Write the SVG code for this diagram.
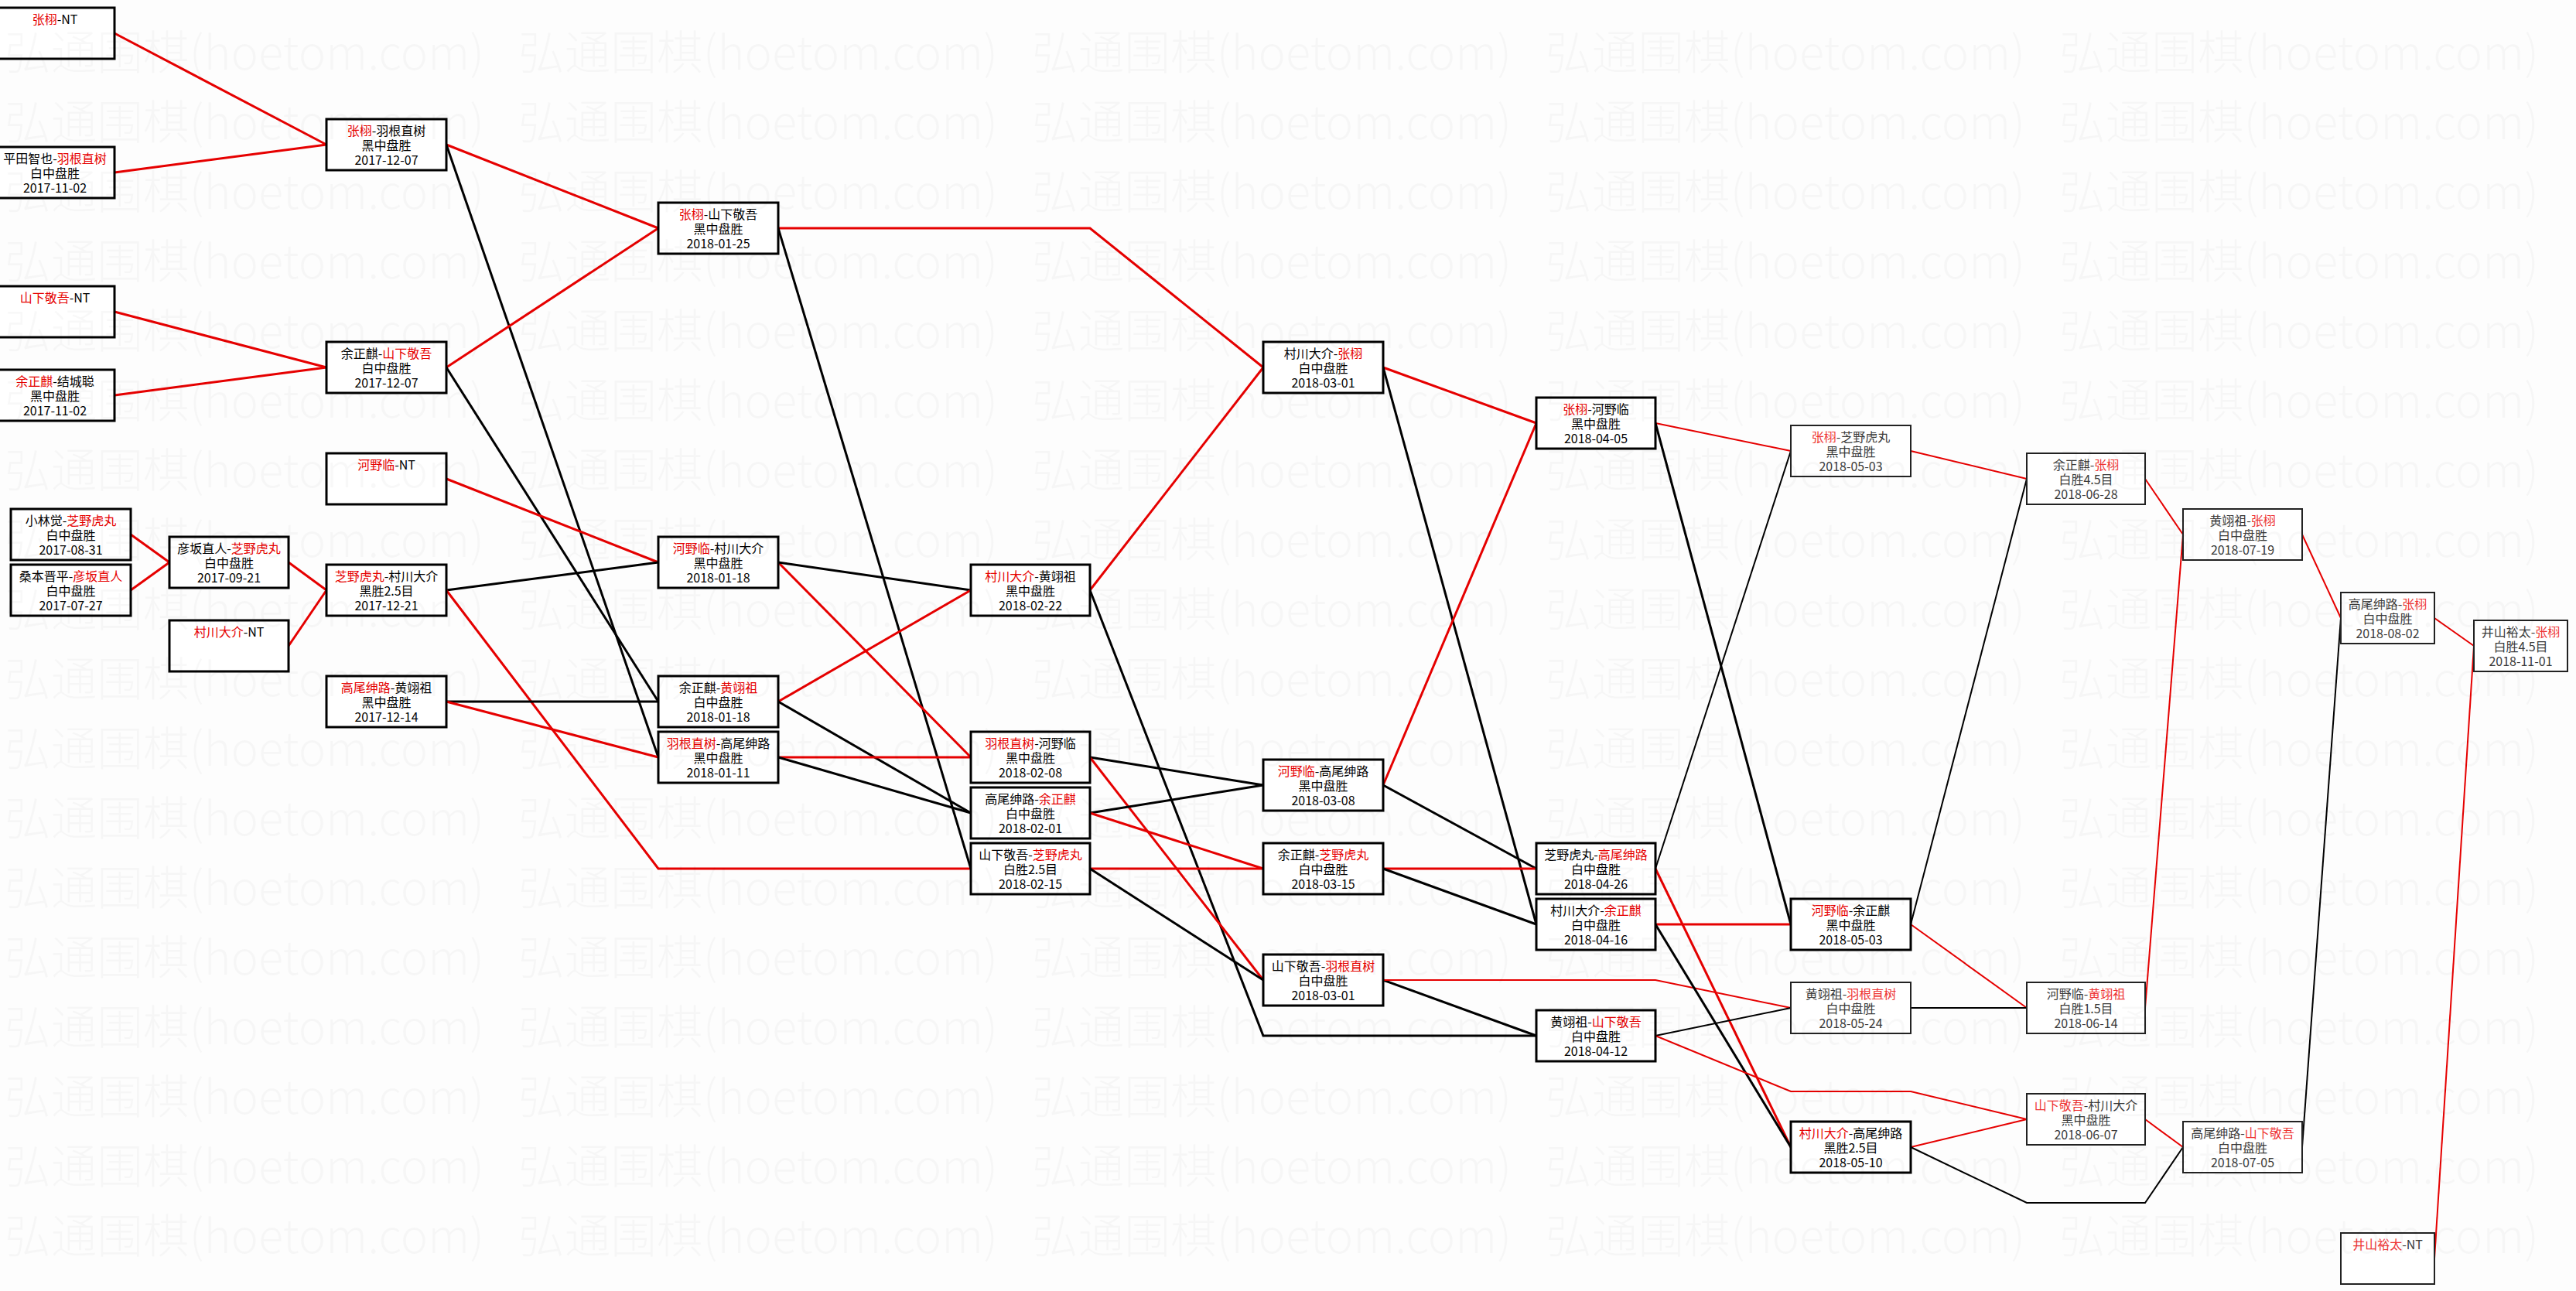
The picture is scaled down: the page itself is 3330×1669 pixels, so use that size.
<svg xmlns="http://www.w3.org/2000/svg" xmlns:xlink="http://www.w3.org/1999/xlink" width="3330" height="1669" viewBox="0 0 3330 1669">
<style>
.bg{fill:#fdfdfd}
.node rect{fill:#fff;stroke:#000;stroke-width:3}
.node.thin rect{stroke:#222;stroke-width:2}
.node text{font-family:"Noto Sans CJK SC","Noto Sans",sans-serif;font-size:16px;text-anchor:middle;fill:#000}
.node.thin text{fill:#3a3a3a}
.node .r{fill:#e60000}
.node.thin .r{fill:#ee3333}
.edges polyline{fill:none;stroke-linejoin:miter}
.er{stroke:#e60000;stroke-width:3}
.eb{stroke:#000;stroke-width:3}
.er.t{stroke-width:2}
.eb.t{stroke-width:2}
.wm{font-family:"Noto Sans CJK SC",sans-serif;font-size:60px;font-weight:300;fill:#000;fill-opacity:0.028}
</style>
<defs>
<text id="wm" class="wm" x="0" y="0" textLength="620" lengthAdjust="spacingAndGlyphs">弘通围棋(hoetom.com)</text>
</defs>
<rect class="bg" x="0" y="0" width="3330" height="1669"/>

<g id="connectors" class="edges">
<polyline class="er" points="148,43 422,187"/>
<polyline class="er" points="148,223 422,187"/>
<polyline class="er" points="148,403 422,475"/>
<polyline class="er" points="148,511 422,475"/>
<polyline class="er" points="169,691 219,727"/>
<polyline class="er" points="169,763 219,727"/>
<polyline class="er" points="373,727 422,763"/>
<polyline class="er" points="373,835 422,763"/>
<polyline class="er" points="577,187 851,295"/>
<polyline class="eb" points="577,187 851,979"/>
<polyline class="er" points="577,475 851,295"/>
<polyline class="eb" points="577,475 851,907"/>
<polyline class="er" points="577,619 851,727"/>
<polyline class="eb" points="577,763 851,727"/>
<polyline class="er" points="577,763 851,1123 1006,1123 1255,1123"/>
<polyline class="eb" points="577,907 851,907"/>
<polyline class="er" points="577,907 851,979"/>
<polyline class="er" points="1006,295 1255,295 1409,295 1633,475"/>
<polyline class="eb" points="1006,295 1255,1123"/>
<polyline class="er" points="1006,727 1255,979"/>
<polyline class="eb" points="1006,727 1255,763"/>
<polyline class="er" points="1006,907 1255,763"/>
<polyline class="eb" points="1006,907 1255,1051"/>
<polyline class="er" points="1006,979 1255,979"/>
<polyline class="eb" points="1006,979 1255,1051"/>
<polyline class="er" points="1409,763 1633,475"/>
<polyline class="eb" points="1409,763 1633,1339 1788,1339 1986,1339"/>
<polyline class="eb" points="1409,979 1633,1015"/>
<polyline class="er" points="1409,979 1633,1267"/>
<polyline class="eb" points="1409,1051 1633,1015"/>
<polyline class="er" points="1409,1051 1633,1123"/>
<polyline class="er" points="1409,1123 1633,1123"/>
<polyline class="eb" points="1409,1123 1633,1267"/>
<polyline class="er" points="1788,475 1986,547"/>
<polyline class="eb" points="1788,475 1986,1195"/>
<polyline class="er" points="1788,1015 1986,547"/>
<polyline class="eb" points="1788,1015 1986,1123"/>
<polyline class="er" points="1788,1123 1986,1123"/>
<polyline class="eb" points="1788,1123 1986,1195"/>
<polyline class="eb" points="1788,1267 1986,1339"/>
<polyline class="er t" points="1788,1267 1986,1267 2140,1267 2315,1303"/>
<polyline class="er t" points="2140,547 2315,583"/>
<polyline class="eb" points="2140,547 2315,1195"/>
<polyline class="eb t" points="2140,1123 2315,583"/>
<polyline class="er" points="2140,1123 2315,1483"/>
<polyline class="er" points="2140,1195 2315,1195"/>
<polyline class="eb" points="2140,1195 2315,1483"/>
<polyline class="eb t" points="2140,1339 2315,1303"/>
<polyline class="er t" points="2140,1339 2315,1411 2470,1411 2620,1447"/>
<polyline class="er t" points="2470,583 2620,619"/>
<polyline class="eb t" points="2470,1195 2620,619"/>
<polyline class="er t" points="2470,1195 2620,1303"/>
<polyline class="eb t" points="2470,1303 2620,1303"/>
<polyline class="er t" points="2470,1483 2620,1447"/>
<polyline class="eb t" points="2470,1483 2620,1555 2773,1555 2822,1483"/>
<polyline class="er t" points="2773,619 2822,691"/>
<polyline class="er t" points="2773,1303 2822,691"/>
<polyline class="er t" points="2773,1447 2822,1483"/>
<polyline class="er t" points="2976,691 3026,799"/>
<polyline class="eb t" points="2976,1483 3026,799"/>
<polyline class="er t" points="3147,799 3198,835"/>
<polyline class="er t" points="3147,1627 3198,835"/>
</g>

<g id="n1" class="node"><rect x="-6" y="10" width="154" height="66"/><text x="71" y="31"><tspan class="r">张栩</tspan>-NT</text></g>
<g id="n2" class="node"><rect x="-6" y="190" width="154" height="66"/><text x="71" y="211">平田智也-<tspan class="r">羽根直树</tspan></text><text x="71" y="230">白中盘胜</text><text x="71" y="249">2017-11-02</text></g>
<g id="n3" class="node"><rect x="-6" y="370" width="154" height="66"/><text x="71" y="391"><tspan class="r">山下敬吾</tspan>-NT</text></g>
<g id="n4" class="node"><rect x="-6" y="478" width="154" height="66"/><text x="71" y="499"><tspan class="r">余正麒</tspan>-结城聪</text><text x="71" y="518">黑中盘胜</text><text x="71" y="537">2017-11-02</text></g>
<g id="n5" class="node"><rect x="14" y="658" width="155" height="66"/><text x="91.5" y="679">小林觉-<tspan class="r">芝野虎丸</tspan></text><text x="91.5" y="698">白中盘胜</text><text x="91.5" y="717">2017-08-31</text></g>
<g id="n6" class="node"><rect x="14" y="730" width="155" height="66"/><text x="91.5" y="751">桑本晋平-<tspan class="r">彦坂直人</tspan></text><text x="91.5" y="770">白中盘胜</text><text x="91.5" y="789">2017-07-27</text></g>
<g id="n7" class="node"><rect x="219" y="694" width="154" height="66"/><text x="296" y="715">彦坂直人-<tspan class="r">芝野虎丸</tspan></text><text x="296" y="734">白中盘胜</text><text x="296" y="753">2017-09-21</text></g>
<g id="n8" class="node"><rect x="219" y="802" width="154" height="66"/><text x="296" y="823"><tspan class="r">村川大介</tspan>-NT</text></g>
<g id="n9" class="node"><rect x="422" y="154" width="155" height="66"/><text x="499.5" y="175"><tspan class="r">张栩</tspan>-羽根直树</text><text x="499.5" y="194">黑中盘胜</text><text x="499.5" y="213">2017-12-07</text></g>
<g id="n10" class="node"><rect x="422" y="442" width="155" height="66"/><text x="499.5" y="463">余正麒-<tspan class="r">山下敬吾</tspan></text><text x="499.5" y="482">白中盘胜</text><text x="499.5" y="501">2017-12-07</text></g>
<g id="n11" class="node"><rect x="422" y="586" width="155" height="66"/><text x="499.5" y="607"><tspan class="r">河野临</tspan>-NT</text></g>
<g id="n12" class="node"><rect x="422" y="730" width="155" height="66"/><text x="499.5" y="751"><tspan class="r">芝野虎丸</tspan>-村川大介</text><text x="499.5" y="770">黑胜2.5目</text><text x="499.5" y="789">2017-12-21</text></g>
<g id="n13" class="node"><rect x="422" y="874" width="155" height="66"/><text x="499.5" y="895"><tspan class="r">高尾绅路</tspan>-黄翊祖</text><text x="499.5" y="914">黑中盘胜</text><text x="499.5" y="933">2017-12-14</text></g>
<g id="n14" class="node"><rect x="851" y="262" width="155" height="66"/><text x="928.5" y="283"><tspan class="r">张栩</tspan>-山下敬吾</text><text x="928.5" y="302">黑中盘胜</text><text x="928.5" y="321">2018-01-25</text></g>
<g id="n15" class="node"><rect x="851" y="694" width="155" height="66"/><text x="928.5" y="715"><tspan class="r">河野临</tspan>-村川大介</text><text x="928.5" y="734">黑中盘胜</text><text x="928.5" y="753">2018-01-18</text></g>
<g id="n16" class="node"><rect x="851" y="874" width="155" height="66"/><text x="928.5" y="895">余正麒-<tspan class="r">黄翊祖</tspan></text><text x="928.5" y="914">白中盘胜</text><text x="928.5" y="933">2018-01-18</text></g>
<g id="n17" class="node"><rect x="851" y="946" width="155" height="66"/><text x="928.5" y="967"><tspan class="r">羽根直树</tspan>-高尾绅路</text><text x="928.5" y="986">黑中盘胜</text><text x="928.5" y="1005">2018-01-11</text></g>
<g id="n18" class="node"><rect x="1255" y="730" width="154" height="66"/><text x="1332" y="751"><tspan class="r">村川大介</tspan>-黄翊祖</text><text x="1332" y="770">黑中盘胜</text><text x="1332" y="789">2018-02-22</text></g>
<g id="n19" class="node"><rect x="1255" y="946" width="154" height="66"/><text x="1332" y="967"><tspan class="r">羽根直树</tspan>-河野临</text><text x="1332" y="986">黑中盘胜</text><text x="1332" y="1005">2018-02-08</text></g>
<g id="n20" class="node"><rect x="1255" y="1018" width="154" height="66"/><text x="1332" y="1039">高尾绅路-<tspan class="r">余正麒</tspan></text><text x="1332" y="1058">白中盘胜</text><text x="1332" y="1077">2018-02-01</text></g>
<g id="n21" class="node"><rect x="1255" y="1090" width="154" height="66"/><text x="1332" y="1111">山下敬吾-<tspan class="r">芝野虎丸</tspan></text><text x="1332" y="1130">白胜2.5目</text><text x="1332" y="1149">2018-02-15</text></g>
<g id="n22" class="node"><rect x="1633" y="442" width="155" height="66"/><text x="1710.5" y="463">村川大介-<tspan class="r">张栩</tspan></text><text x="1710.5" y="482">白中盘胜</text><text x="1710.5" y="501">2018-03-01</text></g>
<g id="n23" class="node"><rect x="1633" y="982" width="155" height="66"/><text x="1710.5" y="1003"><tspan class="r">河野临</tspan>-高尾绅路</text><text x="1710.5" y="1022">黑中盘胜</text><text x="1710.5" y="1041">2018-03-08</text></g>
<g id="n24" class="node"><rect x="1633" y="1090" width="155" height="66"/><text x="1710.5" y="1111">余正麒-<tspan class="r">芝野虎丸</tspan></text><text x="1710.5" y="1130">白中盘胜</text><text x="1710.5" y="1149">2018-03-15</text></g>
<g id="n25" class="node"><rect x="1633" y="1234" width="155" height="66"/><text x="1710.5" y="1255">山下敬吾-<tspan class="r">羽根直树</tspan></text><text x="1710.5" y="1274">白中盘胜</text><text x="1710.5" y="1293">2018-03-01</text></g>
<g id="n26" class="node"><rect x="1986" y="514" width="154" height="66"/><text x="2063" y="535"><tspan class="r">张栩</tspan>-河野临</text><text x="2063" y="554">黑中盘胜</text><text x="2063" y="573">2018-04-05</text></g>
<g id="n27" class="node"><rect x="1986" y="1090" width="154" height="66"/><text x="2063" y="1111">芝野虎丸-<tspan class="r">高尾绅路</tspan></text><text x="2063" y="1130">白中盘胜</text><text x="2063" y="1149">2018-04-26</text></g>
<g id="n28" class="node"><rect x="1986" y="1162" width="154" height="66"/><text x="2063" y="1183">村川大介-<tspan class="r">余正麒</tspan></text><text x="2063" y="1202">白中盘胜</text><text x="2063" y="1221">2018-04-16</text></g>
<g id="n29" class="node"><rect x="1986" y="1306" width="154" height="66"/><text x="2063" y="1327">黄翊祖-<tspan class="r">山下敬吾</tspan></text><text x="2063" y="1346">白中盘胜</text><text x="2063" y="1365">2018-04-12</text></g>
<g id="n30" class="node thin"><rect x="2315" y="550" width="155" height="66"/><text x="2392.5" y="571"><tspan class="r">张栩</tspan>-芝野虎丸</text><text x="2392.5" y="590">黑中盘胜</text><text x="2392.5" y="609">2018-05-03</text></g>
<g id="n31" class="node"><rect x="2315" y="1162" width="155" height="66"/><text x="2392.5" y="1183"><tspan class="r">河野临</tspan>-余正麒</text><text x="2392.5" y="1202">黑中盘胜</text><text x="2392.5" y="1221">2018-05-03</text></g>
<g id="n32" class="node thin"><rect x="2315" y="1270" width="155" height="66"/><text x="2392.5" y="1291">黄翊祖-<tspan class="r">羽根直树</tspan></text><text x="2392.5" y="1310">白中盘胜</text><text x="2392.5" y="1329">2018-05-24</text></g>
<g id="n33" class="node"><rect x="2315" y="1450" width="155" height="66"/><text x="2392.5" y="1471"><tspan class="r">村川大介</tspan>-高尾绅路</text><text x="2392.5" y="1490">黑胜2.5目</text><text x="2392.5" y="1509">2018-05-10</text></g>
<g id="n34" class="node thin"><rect x="2620" y="586" width="153" height="66"/><text x="2696.5" y="607">余正麒-<tspan class="r">张栩</tspan></text><text x="2696.5" y="626">白胜4.5目</text><text x="2696.5" y="645">2018-06-28</text></g>
<g id="n35" class="node thin"><rect x="2620" y="1270" width="153" height="66"/><text x="2696.5" y="1291">河野临-<tspan class="r">黄翊祖</tspan></text><text x="2696.5" y="1310">白胜1.5目</text><text x="2696.5" y="1329">2018-06-14</text></g>
<g id="n36" class="node thin"><rect x="2620" y="1414" width="153" height="66"/><text x="2696.5" y="1435"><tspan class="r">山下敬吾</tspan>-村川大介</text><text x="2696.5" y="1454">黑中盘胜</text><text x="2696.5" y="1473">2018-06-07</text></g>
<g id="n37" class="node thin"><rect x="2822" y="658" width="154" height="66"/><text x="2899" y="679">黄翊祖-<tspan class="r">张栩</tspan></text><text x="2899" y="698">白中盘胜</text><text x="2899" y="717">2018-07-19</text></g>
<g id="n38" class="node thin"><rect x="2822" y="1450" width="154" height="66"/><text x="2899" y="1471">高尾绅路-<tspan class="r">山下敬吾</tspan></text><text x="2899" y="1490">白中盘胜</text><text x="2899" y="1509">2018-07-05</text></g>
<g id="n39" class="node thin"><rect x="3026" y="766" width="121" height="66"/><text x="3086.5" y="787">高尾绅路-<tspan class="r">张栩</tspan></text><text x="3086.5" y="806">白中盘胜</text><text x="3086.5" y="825">2018-08-02</text></g>
<g id="n40" class="node thin"><rect x="3026" y="1594" width="121" height="66"/><text x="3086.5" y="1615"><tspan class="r">井山裕太</tspan>-NT</text></g>
<g id="n41" class="node thin"><rect x="3198" y="802" width="121" height="66"/><text x="3258.5" y="823">井山裕太-<tspan class="r">张栩</tspan></text><text x="3258.5" y="842">白胜4.5目</text><text x="3258.5" y="861">2018-11-01</text></g>

<g id="watermark">
<use xlink:href="#wm" x="6" y="90"/><use xlink:href="#wm" x="670" y="90"/><use xlink:href="#wm" x="1334" y="90"/><use xlink:href="#wm" x="1998" y="90"/><use xlink:href="#wm" x="2662" y="90"/><use xlink:href="#wm" x="3326" y="90"/>
<use xlink:href="#wm" x="6" y="180"/><use xlink:href="#wm" x="670" y="180"/><use xlink:href="#wm" x="1334" y="180"/><use xlink:href="#wm" x="1998" y="180"/><use xlink:href="#wm" x="2662" y="180"/><use xlink:href="#wm" x="3326" y="180"/>
<use xlink:href="#wm" x="6" y="270"/><use xlink:href="#wm" x="670" y="270"/><use xlink:href="#wm" x="1334" y="270"/><use xlink:href="#wm" x="1998" y="270"/><use xlink:href="#wm" x="2662" y="270"/><use xlink:href="#wm" x="3326" y="270"/>
<use xlink:href="#wm" x="6" y="360"/><use xlink:href="#wm" x="670" y="360"/><use xlink:href="#wm" x="1334" y="360"/><use xlink:href="#wm" x="1998" y="360"/><use xlink:href="#wm" x="2662" y="360"/><use xlink:href="#wm" x="3326" y="360"/>
<use xlink:href="#wm" x="6" y="450"/><use xlink:href="#wm" x="670" y="450"/><use xlink:href="#wm" x="1334" y="450"/><use xlink:href="#wm" x="1998" y="450"/><use xlink:href="#wm" x="2662" y="450"/><use xlink:href="#wm" x="3326" y="450"/>
<use xlink:href="#wm" x="6" y="540"/><use xlink:href="#wm" x="670" y="540"/><use xlink:href="#wm" x="1334" y="540"/><use xlink:href="#wm" x="1998" y="540"/><use xlink:href="#wm" x="2662" y="540"/><use xlink:href="#wm" x="3326" y="540"/>
<use xlink:href="#wm" x="6" y="630"/><use xlink:href="#wm" x="670" y="630"/><use xlink:href="#wm" x="1334" y="630"/><use xlink:href="#wm" x="1998" y="630"/><use xlink:href="#wm" x="2662" y="630"/><use xlink:href="#wm" x="3326" y="630"/>
<use xlink:href="#wm" x="6" y="720"/><use xlink:href="#wm" x="670" y="720"/><use xlink:href="#wm" x="1334" y="720"/><use xlink:href="#wm" x="1998" y="720"/><use xlink:href="#wm" x="2662" y="720"/><use xlink:href="#wm" x="3326" y="720"/>
<use xlink:href="#wm" x="6" y="810"/><use xlink:href="#wm" x="670" y="810"/><use xlink:href="#wm" x="1334" y="810"/><use xlink:href="#wm" x="1998" y="810"/><use xlink:href="#wm" x="2662" y="810"/><use xlink:href="#wm" x="3326" y="810"/>
<use xlink:href="#wm" x="6" y="900"/><use xlink:href="#wm" x="670" y="900"/><use xlink:href="#wm" x="1334" y="900"/><use xlink:href="#wm" x="1998" y="900"/><use xlink:href="#wm" x="2662" y="900"/><use xlink:href="#wm" x="3326" y="900"/>
<use xlink:href="#wm" x="6" y="990"/><use xlink:href="#wm" x="670" y="990"/><use xlink:href="#wm" x="1334" y="990"/><use xlink:href="#wm" x="1998" y="990"/><use xlink:href="#wm" x="2662" y="990"/><use xlink:href="#wm" x="3326" y="990"/>
<use xlink:href="#wm" x="6" y="1080"/><use xlink:href="#wm" x="670" y="1080"/><use xlink:href="#wm" x="1334" y="1080"/><use xlink:href="#wm" x="1998" y="1080"/><use xlink:href="#wm" x="2662" y="1080"/><use xlink:href="#wm" x="3326" y="1080"/>
<use xlink:href="#wm" x="6" y="1170"/><use xlink:href="#wm" x="670" y="1170"/><use xlink:href="#wm" x="1334" y="1170"/><use xlink:href="#wm" x="1998" y="1170"/><use xlink:href="#wm" x="2662" y="1170"/><use xlink:href="#wm" x="3326" y="1170"/>
<use xlink:href="#wm" x="6" y="1260"/><use xlink:href="#wm" x="670" y="1260"/><use xlink:href="#wm" x="1334" y="1260"/><use xlink:href="#wm" x="1998" y="1260"/><use xlink:href="#wm" x="2662" y="1260"/><use xlink:href="#wm" x="3326" y="1260"/>
<use xlink:href="#wm" x="6" y="1350"/><use xlink:href="#wm" x="670" y="1350"/><use xlink:href="#wm" x="1334" y="1350"/><use xlink:href="#wm" x="1998" y="1350"/><use xlink:href="#wm" x="2662" y="1350"/><use xlink:href="#wm" x="3326" y="1350"/>
<use xlink:href="#wm" x="6" y="1440"/><use xlink:href="#wm" x="670" y="1440"/><use xlink:href="#wm" x="1334" y="1440"/><use xlink:href="#wm" x="1998" y="1440"/><use xlink:href="#wm" x="2662" y="1440"/><use xlink:href="#wm" x="3326" y="1440"/>
<use xlink:href="#wm" x="6" y="1530"/><use xlink:href="#wm" x="670" y="1530"/><use xlink:href="#wm" x="1334" y="1530"/><use xlink:href="#wm" x="1998" y="1530"/><use xlink:href="#wm" x="2662" y="1530"/><use xlink:href="#wm" x="3326" y="1530"/>
<use xlink:href="#wm" x="6" y="1620"/><use xlink:href="#wm" x="670" y="1620"/><use xlink:href="#wm" x="1334" y="1620"/><use xlink:href="#wm" x="1998" y="1620"/><use xlink:href="#wm" x="2662" y="1620"/><use xlink:href="#wm" x="3326" y="1620"/>
</g>
</svg>
